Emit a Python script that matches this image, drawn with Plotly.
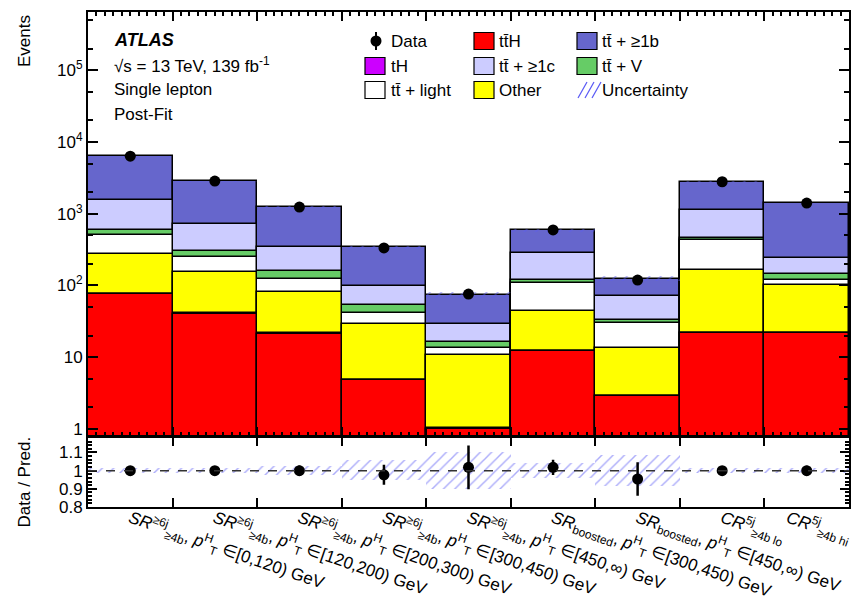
import numpy as np
import plotly.graph_objects as go

# ---------------- data ----------------
bin_labels = [
    "<i>SR</i><sup>≥6j</sup><sub>≥4b</sub>, <i>p</i><sup>H</sup><sub>T</sub> ∈[0,120) GeV",
    "<i>SR</i><sup>≥6j</sup><sub>≥4b</sub>, <i>p</i><sup>H</sup><sub>T</sub> ∈[120,200) GeV",
    "<i>SR</i><sup>≥6j</sup><sub>≥4b</sub>, <i>p</i><sup>H</sup><sub>T</sub> ∈[200,300) GeV",
    "<i>SR</i><sup>≥6j</sup><sub>≥4b</sub>, <i>p</i><sup>H</sup><sub>T</sub> ∈[300,450) GeV",
    "<i>SR</i><sup>≥6j</sup><sub>≥4b</sub>, <i>p</i><sup>H</sup><sub>T</sub> ∈[450,∞) GeV",
    "<i>SR</i><sub>boosted</sub>, <i>p</i><sup>H</sup><sub>T</sub> ∈[300,450) GeV",
    "<i>SR</i><sub>boosted</sub>, <i>p</i><sup>H</sup><sub>T</sub> ∈[450,∞) GeV",
    "<i>CR</i><sup>5j</sup><sub>≥4b lo</sub>",
    "<i>CR</i><sup>5j</sup><sub>≥4b hi</sub>",
]
bin_index = [1, 2, 3, 4, 5, 6, 7, 8, 9]
label_pos = [1, 2, 3, 4, 5, 6, 7, 8, 8.78]
bin_edges = [0.5, 1.5, 2.5, 3.5, 4.5, 5.5, 6.5, 7.5, 8.5, 9.5]

ttH    = [75.7, 40.6, 21.4, 4.77, 1.01, 12.2, 2.88, 21.8, 21.8]
tH     = [0.6, 0.3, 0.15, 0.04, 0.01, 0.1, 0.02, 0.2, 0.2]
other  = [197, 111, 58.4, 24.7, 9.9, 32.1, 10.7, 141, 79]
light  = [230, 99, 44, 12, 2.7, 62.7, 16.5, 265, 20]
ttV    = [87, 53, 36, 12.1, 2.7, 14, 2.7, 33, 23]
tt1c   = [960, 412, 179, 45, 13.2, 158, 38.8, 671, 101]
tt1b   = [4780, 2134, 897, 243, 45.3, 306, 53.4, 1655, 1161]

data_vals = [6330, 2850, 1236, 334, 76, 595, 119, 2787, 1406]
data_errs = [80, 53, 35, 18, 8.7, 24, 11, 53, 37]

ratio_vals = [1.0, 1.0, 1.0, 0.977, 1.018, 1.018, 0.954, 1.0, 1.0]
ratio_errs = [0.013, 0.019, 0.028, 0.055, 0.12, 0.042, 0.092, 0.019, 0.027]
rel_unc    = [0.012, 0.015, 0.027, 0.055, 0.10, 0.04, 0.087, 0.012, 0.012]

y_tickvals = [1, 10, 100, 1000, 10000, 100000]
y_ticktext = ["1", "10", "10<sup>2</sup>", "10<sup>3</sup>", "10<sup>4</sup>", "10<sup>5</sup>"]
r_tickvals = [0.8, 0.9, 1.0, 1.1]
r_ticktext = ["0.8", "0.9", "1", "1.1"]

# ---------------- styles ----------------
FONT = "Liberation Sans, Arial, Helvetica, sans-serif"
C_TTH, C_TH, C_OTHER, C_LIGHT = "#ff0000", "#cc00ff", "#ffff00", "#ffffff"
C_TTV, C_1C, C_1B = "#66cc66", "#ccccff", "#6666cc"
C_UNC = "#5a5af5"

comps = [("ttH", ttH, C_TTH), ("tH", tH, C_TH), ("Other", other, C_OTHER),
         ("light", light, C_LIGHT), ("ttV", ttV, C_TTV), ("1c", tt1c, C_1C), ("1b", tt1b, C_1B)]
cum = np.cumsum(np.array([c[1] for c in comps], dtype=float), axis=0)
total = cum[-1]

HATCH = dict(shape="/", fgcolor=C_UNC, bgcolor="rgba(0,0,0,0)", size=8, solidity=0.18, fillmode="overlay")

fig = go.Figure()
for i in range(len(comps) - 1, -1, -1):
    name, _, col = comps[i]
    fig.add_trace(go.Bar(x=bin_index, y=cum[i], width=1.0, marker=dict(color=col, line=dict(color="black", width=1.5)),
                         showlegend=False, xaxis="x", yaxis="y", hoverinfo="skip"))

unc = np.array(rel_unc)
fig.add_trace(go.Bar(x=bin_index, y=2 * unc * total, base=total * (1 - unc), width=1.0,
                     marker=dict(color="rgba(0,0,0,0)", line=dict(width=0), pattern=HATCH),
                     showlegend=False, xaxis="x", yaxis="y", hoverinfo="skip"))

fig.add_trace(go.Scatter(x=bin_index, y=data_vals, mode="markers",
                         marker=dict(color="black", size=11),
                         error_y=dict(type="data", array=data_errs, color="black", thickness=2, width=0),
                         showlegend=False, xaxis="x", yaxis="y"))

# ratio
fig.add_trace(go.Bar(x=bin_index, y=2 * unc, base=1 - unc, width=1.0,
                     marker=dict(color="rgba(0,0,0,0)", line=dict(width=0), pattern=HATCH),
                     showlegend=False, xaxis="x2", yaxis="y2", hoverinfo="skip"))
fig.add_shape(type="line", xref="x2 domain", yref="y2", x0=0, x1=1, y0=1, y1=1,
              line=dict(color="#333333", width=1.5, dash="dash"))
fig.add_trace(go.Scatter(x=bin_index, y=ratio_vals, mode="markers",
                         marker=dict(color="black", size=11),
                         error_y=dict(type="data", array=ratio_errs, color="black", thickness=2.5, width=0),
                         showlegend=False, xaxis="x2", yaxis="y2"))

# ---------------- layout ----------------
L, R, T, B = 88, 17, 12, 98
W, H = 866, 605
PW, PH = W - L - R, H - T - B

def px(X):
    return (X - L) / PW

def py(Y):
    return (H - B - Y) / PH

ax_common = dict(showline=True, linecolor="black", linewidth=2, mirror="allticks", ticks="inside",
                 tickcolor="black", tickwidth=1.5, showgrid=False, zeroline=False, automargin=False)

fig.update_layout(
    width=W, height=H, margin=dict(l=L, r=R, t=T, b=B, autoexpand=False),
    paper_bgcolor="white", plot_bgcolor="white", barmode="overlay", bargap=0,
    font=dict(family=FONT, size=17, color="black"),
    xaxis=dict(ax_common, domain=[0, 1], range=[0.5, 9.5], anchor="y", tickvals=bin_edges[1:-1], ticklen=9,
               showticklabels=False, matches="x2",
               minor=dict(tickmode="linear", tick0=0.5, dtick=0.1, ticks="inside", ticklen=4, tickcolor="black")),
    yaxis=dict(ax_common, domain=[0.143, 1], type="log", range=[-0.10, 5.81], anchor="x",
               tickvals=y_tickvals, ticktext=y_ticktext, ticklen=10,
               minor=dict(ticks="inside", ticklen=5, tickcolor="black", showgrid=False)),
    xaxis2=dict(ax_common, domain=[0, 1], range=[0.5, 9.5], anchor="y2", tickvals=label_pos, ticktext=bin_labels,
                ticks="", tickangle=19, tickfont=dict(size=17), ticklabeloverflow="allow", ticklabelstandoff=-7,
                minor=dict(tickvals=bin_edges[1:-1], ticks="inside", ticklen=9, tickcolor="black", tickwidth=1.5)),
    yaxis2=dict(ax_common, domain=[0, 0.141], range=[0.8, 1.184], anchor="x2",
                tickvals=r_tickvals, ticktext=r_ticktext, ticklen=9,
                minor=dict(dtick=0.02, ticks="inside", ticklen=4, tickcolor="black")),
)

ann = []
ann.append(dict(x=px(24), y=py(13), xref="paper", yref="paper", text="Events", textangle=-90,
                showarrow=False, xanchor="center", yanchor="top", font=dict(size=17)))
ann.append(dict(x=px(24), y=py(435), xref="paper", yref="paper", text="Data / Pred.", textangle=-90,
                showarrow=False, xanchor="center", yanchor="top", font=dict(size=17)))
ann.append(dict(x=px(112), y=py(40), xref="paper", yref="paper", text="<b><i>ATLAS</i></b>",
                showarrow=False, xanchor="left", yanchor="middle", font=dict(size=18)))
for t, yy in [("√s = 13 TeV, 139 fb<sup>-1</sup>", 65), ("Single lepton", 89), ("Post-Fit", 114)]:
    ann.append(dict(x=px(112), y=py(yy), xref="paper", yref="paper", text=t,
                    showarrow=False, xanchor="left", yanchor="middle", font=dict(size=17)))

rows = [41, 66, 90]
cols_box = [365, 474, 577]
cols_txt = [389, 497, 600]
legend_items = [
    (0, 0, "Data", "data"), (1, 0, "tt̄H", C_TTH), (2, 0, "tt̄ + ≥1b", C_1B),
    (0, 1, "tH", C_TH), (1, 1, "tt̄ + ≥1c", C_1C), (2, 1, "tt̄ + V", C_TTV),
    (0, 2, "tt̄ + light", C_LIGHT), (1, 2, "Other", C_OTHER), (2, 2, "Uncertainty", "unc"),
]
shapes = []
for c, r, label, col in legend_items:
    yc = rows[r]
    xb = cols_box[c]
    if col == "data":
        shapes.append(dict(type="circle", xref="paper", yref="paper", x0=px(376 - 5.5), x1=px(376 + 5.5),
                           y0=py(yc + 5.5), y1=py(yc - 5.5), fillcolor="black", line=dict(color="black", width=0)))
        shapes.append(dict(type="line", xref="paper", yref="paper", x0=px(376), x1=px(376),
                           y0=py(yc + 9), y1=py(yc - 9), line=dict(color="black", width=2)))
    elif col == "unc":
        for k in range(3):
            x0 = xb + 1 + k * 7
            shapes.append(dict(type="line", xref="paper", yref="paper", x0=px(x0), x1=px(x0 + 9),
                               y0=py(yc + 8), y1=py(yc - 8), line=dict(color=C_UNC, width=1.2)))
    else:
        shapes.append(dict(type="rect", xref="paper", yref="paper", x0=px(xb), x1=px(xb + 20),
                           y0=py(yc + 8.5), y1=py(yc - 8.5), fillcolor=col, line=dict(color="black", width=1.2)))
    ann.append(dict(x=px(cols_txt[c]), y=py(yc), xref="paper", yref="paper", text=label,
                    showarrow=False, xanchor="left", yanchor="middle", font=dict(size=17)))

fig.update_layout(annotations=ann)
for s in shapes:
    fig.add_shape(**s)

fig.write_html("out.html")
